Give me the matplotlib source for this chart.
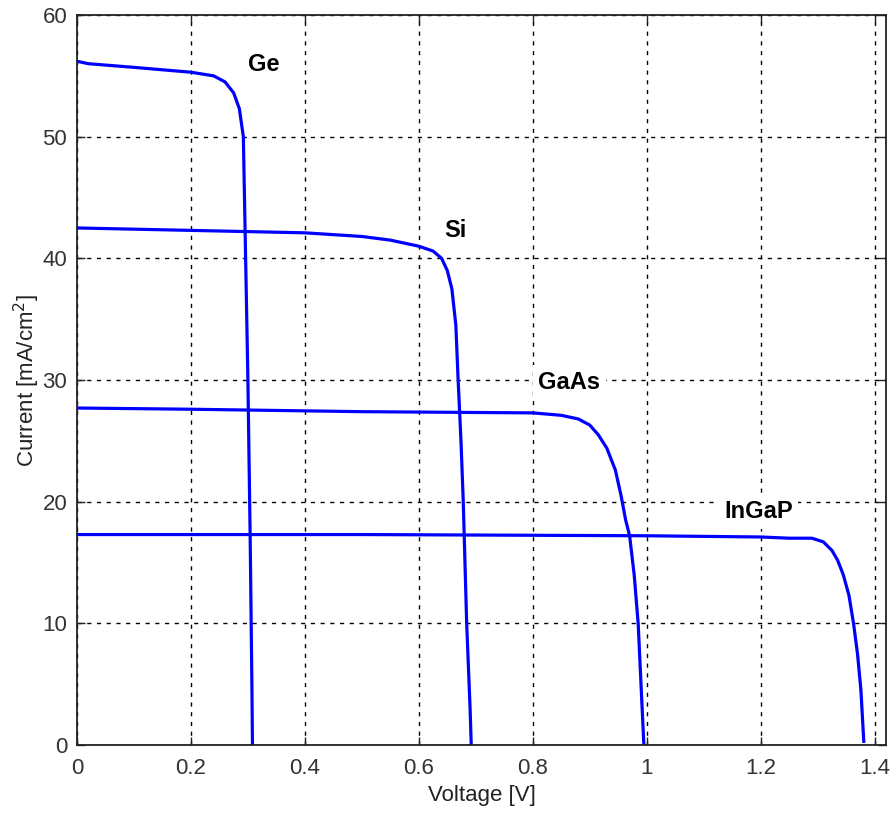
import matplotlib
matplotlib.use("Agg")
import matplotlib.pyplot as plt

plt.rcParams['font.family'] = ['Liberation Sans', 'DejaVu Sans']

# I-V curves (voltage in V, current in mA/cm^2)
ge_v = [0, 0.02, 0.1, 0.2, 0.24, 0.26, 0.275, 0.285, 0.292, 0.296, 0.300, 0.304, 0.307, 0.308]
ge_i = [56.2, 56.0, 55.7, 55.3, 55.0, 54.5, 53.6, 52.3, 50.0, 40.0, 30.0, 17.0, 5.0, 0.0]

si_v = [0, 0.2, 0.4, 0.5, 0.55, 0.6, 0.625, 0.64, 0.65, 0.658, 0.665, 0.669, 0.674, 0.678, 0.684, 0.69, 0.692]
si_i = [42.5, 42.3, 42.1, 41.8, 41.5, 41.0, 40.6, 40.0, 39.0, 37.5, 34.5, 30.0, 25.0, 20.0, 10.0, 3.0, 0.0]

gaas_v = [0, 0.2, 0.5, 0.8, 0.85, 0.88, 0.9, 0.915, 0.93, 0.945, 0.955, 0.963, 0.97, 0.978, 0.985, 0.99, 0.995]
gaas_i = [27.7, 27.6, 27.4, 27.3, 27.1, 26.8, 26.3, 25.5, 24.4, 22.6, 20.5, 18.5, 17.2, 14.0, 10.0, 5.0, 0.0]

ingap_v = [0, 0.5, 1.0, 1.2, 1.25, 1.29, 1.31, 1.325, 1.335, 1.345, 1.355, 1.363, 1.37, 1.376, 1.381]
ingap_i = [17.3, 17.3, 17.2, 17.1, 17.0, 17.0, 16.7, 16.0, 15.2, 14.0, 12.3, 10.0, 7.5, 4.5, 0.3]

labels = ["Ge", "Si", "GaAs", "InGaP"]
label_v = [0.327, 0.664, 0.864, 1.196]
label_i = [55.9, 42.3, 29.8, 19.2]

xticks = [0, 0.2, 0.4, 0.6, 0.8, 1.0, 1.2, 1.4]
xticklabels = ["0", "0.2", "0.4", "0.6", "0.8", "1", "1.2", "1.4"]
yticks = [0, 10, 20, 30, 40, 50, 60]

fig = plt.figure(figsize=(8.9, 8.13), dpi=100)
ax = fig.add_axes([0.0865, 0.0836, 0.909, 0.8979])

for v, i in [(ge_v, ge_i), (si_v, si_i), (gaas_v, gaas_i), (ingap_v, ingap_i)]:
    ax.plot(v, i, color='#0000ff', lw=2.3)

for name, x, y in zip(labels, label_v, label_i):
    ax.text(x, y, name, fontsize=17, fontweight='bold', ha='center', va='center',
            bbox=dict(facecolor='white', edgecolor='none', pad=4))

ax.set_xlim(0, 1.42)
ax.set_ylim(0, 60)
ax.set_xticks(xticks)
ax.set_xticklabels(xticklabels)
ax.set_yticks(yticks)
ax.grid(True, color='black', linestyle=(0, (3, 4)), linewidth=1.0)
ax.set_axisbelow(True)

ax.tick_params(direction='in', length=6, width=1, top=True, right=True,
               labelsize=16, labelcolor='#333333', colors='#222222')
ax.tick_params(axis='x', pad=9)
ax.tick_params(axis='y', pad=7)
for s in ax.spines.values():
    s.set_linewidth(1.3)
    s.set_color('#222222')

ax.set_xlabel("Voltage [V]", fontsize=16, color='#222222', labelpad=5)
ax.set_ylabel("Current [mA/cm$^2$]", fontsize=16, color='#222222', labelpad=0)

fig.savefig("out.png", dpi=100, facecolor='white')
